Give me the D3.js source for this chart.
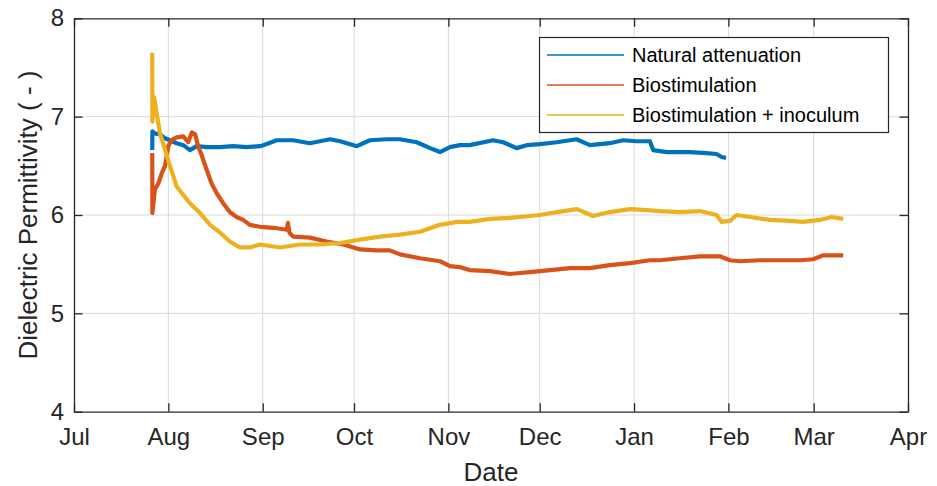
<!DOCTYPE html>
<html>
<head>
<meta charset="utf-8">
<script src="https://cdn.jsdelivr.net/npm/d3@7"></script>
<style>
  html, body { margin: 0; padding: 0; background: #fff; }
  svg { display: block; font-family: "Liberation Sans", Arial, sans-serif; }
</style>
</head>
<body>
<svg id="chart" width="937" height="486"></svg>
<script>
// Dielectric permittivity time series for three soil treatments
const seriesNames = ["Natural attenuation", "Biostimulation", "Biostimulation + inoculum"];
const seriesColors = ["#0072BD", "#D95319", "#EDB120"];

const naturalAttenuation = [
  ["2018-07-26 17:00", 6.66], ["2018-07-26 18:00", 6.85], ["2018-07-27 14:00", 6.83],
  ["2018-07-29 06:00", 6.82], ["2018-07-30 22:00", 6.78], ["2018-08-01 12:00", 6.76],
  ["2018-08-03 17:00", 6.73], ["2018-08-05 22:00", 6.71], ["2018-08-08 02:00", 6.66],
  ["2018-08-10 07:00", 6.70], ["2018-08-13 14:00", 6.69], ["2018-08-18 00:00", 6.69],
  ["2018-08-22 07:00", 6.70], ["2018-08-26 17:00", 6.69], ["2018-08-31 02:00", 6.70],
  ["2018-09-01 05:00", 6.71], ["2018-09-05 14:00", 6.76], ["2018-09-11 00:00", 6.76],
  ["2018-09-16 12:00", 6.73], ["2018-09-23 02:00", 6.77], ["2018-09-26 10:00", 6.75],
  ["2018-10-01 22:00", 6.70], ["2018-10-06 05:00", 6.76], ["2018-10-11 17:00", 6.77],
  ["2018-10-16 02:00", 6.77], ["2018-10-21 14:00", 6.74], ["2018-10-26 00:00", 6.68],
  ["2018-10-29 05:00", 6.64], ["2018-11-01 12:00", 6.69], ["2018-11-04 19:00", 6.71],
  ["2018-11-08 00:00", 6.71], ["2018-11-15 17:00", 6.76], ["2018-11-19 00:00", 6.74],
  ["2018-11-23 10:00", 6.68], ["2018-11-26 17:00", 6.71], ["2018-12-01 02:00", 6.72],
  ["2018-12-06 14:00", 6.74], ["2018-12-13 02:00", 6.77], ["2018-12-17 12:00", 6.71],
  ["2018-12-24 00:00", 6.73], ["2018-12-28 10:00", 6.76], ["2019-01-01 19:00", 6.75],
  ["2019-01-06 05:00", 6.75], ["2019-01-07 07:00", 6.66], ["2019-01-11 17:00", 6.64],
  ["2019-01-19 10:00", 6.64], ["2019-01-24 19:00", 6.63], ["2019-01-28 02:00", 6.62],
  ["2019-01-29 19:00", 6.59], ["2019-01-31 05:00", 6.58]
];

const biostimulation = [
  ["2018-07-26 17:00", 6.63], ["2018-07-26 18:00", 6.02], ["2018-07-27 14:00", 6.26],
  ["2018-07-28 17:00", 6.32], ["2018-07-29 19:00", 6.42], ["2018-07-30 22:00", 6.50],
  ["2018-08-01 00:00", 6.70], ["2018-08-02 00:00", 6.76], ["2018-08-03 17:00", 6.79],
  ["2018-08-05 22:00", 6.80], ["2018-08-07 12:00", 6.74], ["2018-08-08 17:00", 6.84],
  ["2018-08-09 19:00", 6.82], ["2018-08-10 19:00", 6.70], ["2018-08-11 22:00", 6.61],
  ["2018-08-13 14:00", 6.46], ["2018-08-15 05:00", 6.32], ["2018-08-16 22:00", 6.22],
  ["2018-08-19 00:00", 6.12], ["2018-08-21 05:00", 6.03], ["2018-08-23 10:00", 5.98],
  ["2018-08-25 14:00", 5.95], ["2018-08-27 19:00", 5.90], ["2018-08-31 02:00", 5.88],
  ["2018-09-04 12:00", 5.87], ["2018-09-08 22:00", 5.85], ["2018-09-09 07:00", 5.92],
  ["2018-09-09 19:00", 5.82], ["2018-09-11 00:00", 5.78], ["2018-09-16 12:00", 5.77],
  ["2018-09-22 00:00", 5.73], ["2018-09-27 12:00", 5.70], ["2018-10-03 00:00", 5.65],
  ["2018-10-08 10:00", 5.64], ["2018-10-12 19:00", 5.64], ["2018-10-16 02:00", 5.60],
  ["2018-10-22 17:00", 5.56], ["2018-10-29 05:00", 5.53], ["2018-11-01 12:00", 5.48],
  ["2018-11-04 19:00", 5.47], ["2018-11-08 00:00", 5.44], ["2018-11-14 17:00", 5.43],
  ["2018-11-21 05:00", 5.40], ["2018-11-24 12:00", 5.41], ["2018-11-27 19:00", 5.42],
  ["2018-12-04 10:00", 5.44], ["2018-12-11 00:00", 5.46], ["2018-12-17 12:00", 5.46],
  ["2018-12-24 00:00", 5.49], ["2018-12-30 17:00", 5.51], ["2019-01-06 05:00", 5.54],
  ["2019-01-09 12:00", 5.54], ["2019-01-16 00:00", 5.56], ["2019-01-22 14:00", 5.58],
  ["2019-01-29 05:00", 5.58], ["2019-02-01 12:00", 5.54], ["2019-02-04 19:00", 5.53],
  ["2019-02-11 10:00", 5.54], ["2019-02-17 22:00", 5.54], ["2019-02-24 12:00", 5.54],
  ["2019-02-28 19:00", 5.55], ["2019-03-04 05:00", 5.59], ["2019-03-10 17:00", 5.59]
];

const biostimulationInoculum = [
  ["2018-07-26 17:00", 7.65], ["2018-07-26 18:00", 6.95], ["2018-07-27 07:00", 7.20],
  ["2018-07-29 06:00", 6.83], ["2018-08-01 05:00", 6.53], ["2018-08-03 17:00", 6.29],
  ["2018-08-08 02:00", 6.12], ["2018-08-11 10:00", 6.02], ["2018-08-14 17:00", 5.90],
  ["2018-08-18 00:00", 5.82], ["2018-08-21 05:00", 5.73], ["2018-08-24 12:00", 5.67],
  ["2018-08-27 19:00", 5.67], ["2018-08-31 02:00", 5.70], ["2018-09-06 17:00", 5.67],
  ["2018-09-13 05:00", 5.70], ["2018-09-19 19:00", 5.70], ["2018-09-26 10:00", 5.715],
  ["2018-10-03 00:00", 5.75], ["2018-10-09 12:00", 5.78], ["2018-10-16 02:00", 5.80],
  ["2018-10-22 17:00", 5.83], ["2018-10-29 05:00", 5.90], ["2018-11-03 19:00", 5.93],
  ["2018-11-08 00:00", 5.93], ["2018-11-14 17:00", 5.96], ["2018-11-21 05:00", 5.97],
  ["2018-11-27 19:00", 5.99], ["2018-12-01 02:00", 6.00], ["2018-12-07 17:00", 6.035],
  ["2018-12-13 05:00", 6.06], ["2018-12-18 12:00", 5.99], ["2018-12-24 00:00", 6.03],
  ["2018-12-30 17:00", 6.06], ["2019-01-05 05:00", 6.05], ["2019-01-09 12:00", 6.04],
  ["2019-01-16 00:00", 6.03], ["2019-01-22 14:00", 6.04], ["2019-01-28 02:00", 6.00],
  ["2019-01-29 19:00", 5.93], ["2019-02-01 12:00", 5.94], ["2019-02-03 17:00", 6.00],
  ["2019-02-08 00:00", 5.98], ["2019-02-14 14:00", 5.95], ["2019-02-21 05:00", 5.94],
  ["2019-02-25 12:00", 5.93], ["2019-03-03 00:00", 5.95], ["2019-03-06 22:00", 5.98],
  ["2019-03-10 17:00", 5.96]
];

const monthTicks = ["2018-07-01", "2018-08-01", "2018-09-01", "2018-10-01", "2018-11-01",
  "2018-12-01", "2019-01-01", "2019-02-01", "2019-03-01", "2019-04-01"];
const monthLabels = ["Jul", "Aug", "Sep", "Oct", "Nov", "Dec", "Jan", "Feb", "Mar", "Apr"];
const yTicks = [4, 5, 6, 7, 8];
const yDomain = [4, 8];
const xLabel = "Date";
const yLabel = "Dielectric Permittivity ( - )";

const parseTime = d3.timeParse("%Y-%m-%d %H:%M");
const parseDay = d3.timeParse("%Y-%m-%d");

const svg = d3.select("#chart");
const plot = { left: 74, right: 908, top: 18.3, bottom: 411.7 };
const axisColor = "#262626";

const x = d3.scaleTime()
  .domain([parseDay(monthTicks[0]), parseDay(monthTicks[monthTicks.length - 1])])
  .range([plot.left, plot.right]);
const y = d3.scaleLinear().domain(yDomain).range([plot.bottom, plot.top]);

const tickDates = monthTicks.map(parseDay);
const tickLen = 8.5;

// grid
const grid = svg.append("g").attr("stroke", "#d9d9d9").attr("stroke-width", 1);
tickDates.slice(1, -1).forEach(d => {
  grid.append("line").attr("x1", x(d)).attr("x2", x(d)).attr("y1", plot.top).attr("y2", plot.bottom);
});
yTicks.slice(1, -1).forEach(v => {
  grid.append("line").attr("x1", plot.left).attr("x2", plot.right).attr("y1", y(v)).attr("y2", y(v));
});

// data lines
const line = d3.line().x(d => x(parseTime(d[0]))).y(d => y(d[1]));
const lineData = [naturalAttenuation, biostimulation, biostimulationInoculum];
const lines = svg.append("g");
lineData.forEach((data, i) => {
  lines.append("path")
    .datum(data)
    .attr("fill", "none")
    .attr("stroke", seriesColors[i])
    .attr("stroke-width", 4.2)
    .attr("stroke-linejoin", "round")
    .attr("stroke-linecap", "butt")
    .attr("d", line);
});

// axes: bottom and left with labels, top and right mirrored without labels
const xAxisB = d3.axisBottom(x).tickValues(tickDates)
  .tickFormat((d, i) => monthLabels[i]).tickSizeInner(-tickLen).tickSizeOuter(0).tickPadding(16);
const xAxisT = d3.axisTop(x).tickValues(tickDates).tickFormat("").tickSizeInner(-tickLen).tickSizeOuter(0);
const yAxisL = d3.axisLeft(y).tickValues(yTicks).tickFormat(d3.format("d"))
  .tickSizeInner(-tickLen).tickSizeOuter(0).tickPadding(10);
const yAxisR = d3.axisRight(y).tickValues(yTicks).tickFormat("").tickSizeInner(-tickLen).tickSizeOuter(0);

function styleAxis(g) {
  g.select(".domain").attr("stroke", axisColor).attr("stroke-width", 1.3);
  g.selectAll(".tick line").attr("stroke", axisColor).attr("stroke-width", 1.3);
  g.selectAll(".tick text").attr("fill", axisColor).style("font-size", "24px")
    .style("font-family", "'Liberation Sans', Arial, sans-serif");
}

svg.append("g").attr("transform", `translate(0,${plot.bottom})`).call(xAxisB).call(styleAxis)
  .selectAll(".tick text").attr("dy", "0.71em");
svg.append("g").attr("transform", `translate(0,${plot.top})`).call(xAxisT).call(styleAxis);
svg.append("g").attr("transform", `translate(${plot.left},0)`).call(yAxisL).call(styleAxis);
svg.append("g").attr("transform", `translate(${plot.right},0)`).call(yAxisR).call(styleAxis);

// axis titles
svg.append("text")
  .attr("x", (plot.left + plot.right) / 2).attr("y", 481)
  .attr("text-anchor", "middle").attr("fill", axisColor)
  .style("font-size", "26px").text(xLabel);
svg.append("text")
  .attr("transform", `translate(37,${(plot.top + plot.bottom) / 2}) rotate(-90)`)
  .attr("text-anchor", "middle").attr("fill", axisColor)
  .style("font-size", "26px").text(yLabel);

// legend
const legend = svg.append("g");
legend.append("rect")
  .attr("x", 539.5).attr("y", 37.5).attr("width", 349).attr("height", 95)
  .attr("fill", "#fff").attr("stroke", axisColor).attr("stroke-width", 1.2);
seriesNames.forEach((name, i) => {
  const ly = 55 + i * 30;
  legend.append("line").attr("x1", 547).attr("x2", 624).attr("y1", ly).attr("y2", ly)
    .attr("stroke", seriesColors[i]).attr("stroke-width", 1.6);
  legend.append("text").attr("x", 632).attr("y", ly).attr("dy", "0.35em")
    .attr("fill", "#000").style("font-size", "20px").text(name);
});
</script>
</body>
</html>
